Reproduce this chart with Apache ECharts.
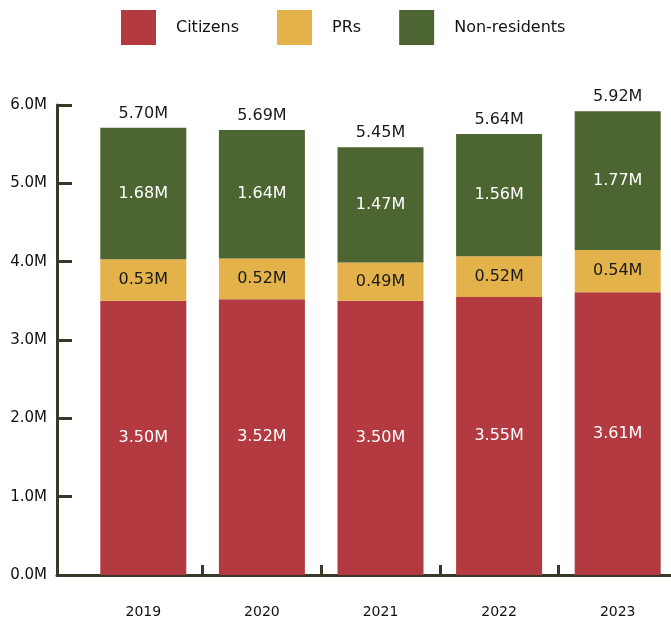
<!DOCTYPE html>
<html>
<head>
<meta charset="utf-8">
<script src="https://cdn.jsdelivr.net/npm/echarts@6/dist/echarts.min.js"></script>
<style>
  html, body { margin: 0; padding: 0; background: #fff; }
  #chart { width: 671px; height: 619px; }
</style>
</head>
<body>
<div id="chart"></div>
<script>
// data
const years = ['2019', '2020', '2021', '2022', '2023'];
const citizens = [3.50, 3.52, 3.50, 3.55, 3.61];
const prs = [0.53, 0.52, 0.49, 0.52, 0.54];
const nonResidents = [1.68, 1.64, 1.47, 1.56, 1.77];
const totals = ['5.70M', '5.69M', '5.45M', '5.64M', '5.92M'];

const axisColor = '#3a3729';
const font = 'DejaVu Sans';

const chart = echarts.init(document.getElementById('chart'));

const segLabel = color => ({
  show: true, position: 'inside', color: color, fontSize: 16, fontFamily: font,
  formatter: p => p.value.toFixed(2) + 'M'
});

const option = {
  textStyle: { fontFamily: font },
  legend: {
    data: ['Citizens', 'PRs', 'Non-residents'],
    left: 116,
    top: 5,
    itemWidth: 35,
    itemHeight: 35,
    itemGap: 38,
    icon: 'rect',
    textStyle: { fontSize: 16, color: '#111', padding: [0, 0, 0, 15], fontFamily: font }
  },
  grid: [
    // bars: the category bands start right of the y axis and run past the right edge
    { left: 84, right: -6, top: 105, bottom: 44, containLabel: false, outerBoundsMode: 'none' },
    // only used to draw the x axis line from the y axis
    { left: 57, right: 0, top: 105, bottom: 44, containLabel: false, outerBoundsMode: 'none' }
  ],
  xAxis: [
    {
      type: 'category',
      gridIndex: 0,
      data: years,
      axisLine: { show: true, lineStyle: { color: axisColor, width: 3 } },
      axisTick: { show: true, inside: true, length: 10, interval: i => i > 0, lineStyle: { color: axisColor, width: 3 } },
      axisLabel: { margin: 30, fontSize: 14, color: '#111', fontFamily: font }
    },
    {
      type: 'value',
      gridIndex: 1,
      splitLine: { show: false },
      axisTick: { show: false },
      axisLabel: { show: false },
      axisLine: { show: true, onZero: false, lineStyle: { color: axisColor, width: 3 } }
    }
  ],
  yAxis: [
    {
      type: 'value',
      gridIndex: 0,
      min: 0,
      max: 6,
      interval: 1,
      offset: 27,
      splitLine: { show: false },
      axisLine: { show: true, lineStyle: { color: axisColor, width: 3 } },
      axisTick: { show: true, inside: true, length: 15, lineStyle: { color: axisColor, width: 3 } },
      axisLabel: {
        formatter: v => v.toFixed(1) + 'M',
        margin: 10,
        fontSize: 15,
        color: '#111',
        fontFamily: font
      }
    },
    {
      type: 'value',
      gridIndex: 1,
      min: 0,
      max: 6,
      show: false
    }
  ],
  series: [
    {
      name: 'Citizens', type: 'bar', stack: 'total', barWidth: 86,
      itemStyle: { color: '#b23a40' },
      label: segLabel('#fff'),
      data: citizens
    },
    {
      name: 'PRs', type: 'bar', stack: 'total', barWidth: 86,
      itemStyle: { color: '#e4b24b' },
      label: segLabel('#1a1a1a'),
      data: prs
    },
    {
      name: 'Non-residents', type: 'bar', stack: 'total', barWidth: 86,
      itemStyle: { color: '#4d6530' },
      label: segLabel('#fff'),
      data: nonResidents
    },
    {
      name: 'total', type: 'bar', stack: 'total', barWidth: 86,
      itemStyle: { color: 'transparent' },
      label: { show: true, position: 'top', distance: 6, color: '#1a1a1a', fontSize: 16, fontFamily: font, formatter: p => totals[p.dataIndex] },
      data: years.map(() => 0)
    }
  ]
};

chart.setOption(option);
</script>
</body>
</html>
